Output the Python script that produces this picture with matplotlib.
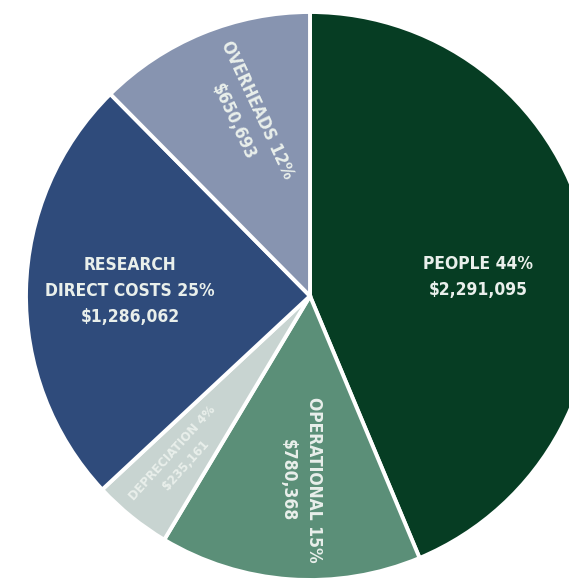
import matplotlib
matplotlib.use("Agg")
import matplotlib.pyplot as plt

# Expenditure breakdown
categories = ["PEOPLE", "OPERATIONAL", "DEPRECIATION", "RESEARCH\nDIRECT COSTS", "OVERHEADS"]
amounts = [2291095, 780368, 235161, 1286062, 650693]
percent_labels = ["44%", "15%", "4%", "25%", "12%"]
colors = ["#063d23", "#5b8f78", "#c8d4d1", "#2f4b7b", "#8794b0"]

W, H = 569, 579
fig = plt.figure(figsize=(W / 100, H / 100), dpi=100)
ax = fig.add_axes([0, 0, 1, 1])

cx, cy, r = 310, H - 296, 284
ax.pie(amounts, colors=colors, startangle=90, counterclock=False,
       center=(cx, cy), radius=r,
       wedgeprops=dict(edgecolor="white", linewidth=2.8))
ax.set_xlim(0, W)
ax.set_ylim(0, H)
ax.set_aspect("equal")
ax.axis("off")


def money(v):
    return "${:,}".format(v)


# label placement: offset from centre, rotation, font size
placements = [
    (168, 19, 0, 12.5),
    (-9, -184, -90, 12.5),
    (-131, -163, 48, 9.5),
    (-180, 5, 0, 12.5),
    (-65, 180, -65, 12.5),
]
txt_color = "#e9efeb"
for name, amt, pct, (dx, dy, rot, fs) in zip(categories, amounts, percent_labels, placements):
    label = f"{name} {pct}\n{money(amt)}"
    ax.text(cx + dx, cy + dy, label, ha="center", va="center", rotation=rot,
            fontsize=fs, fontweight="bold", fontstretch="condensed", color=txt_color,
            family="DejaVu Sans", linespacing=1.6, multialignment="center")

fig.savefig("out.png", dpi=100)
